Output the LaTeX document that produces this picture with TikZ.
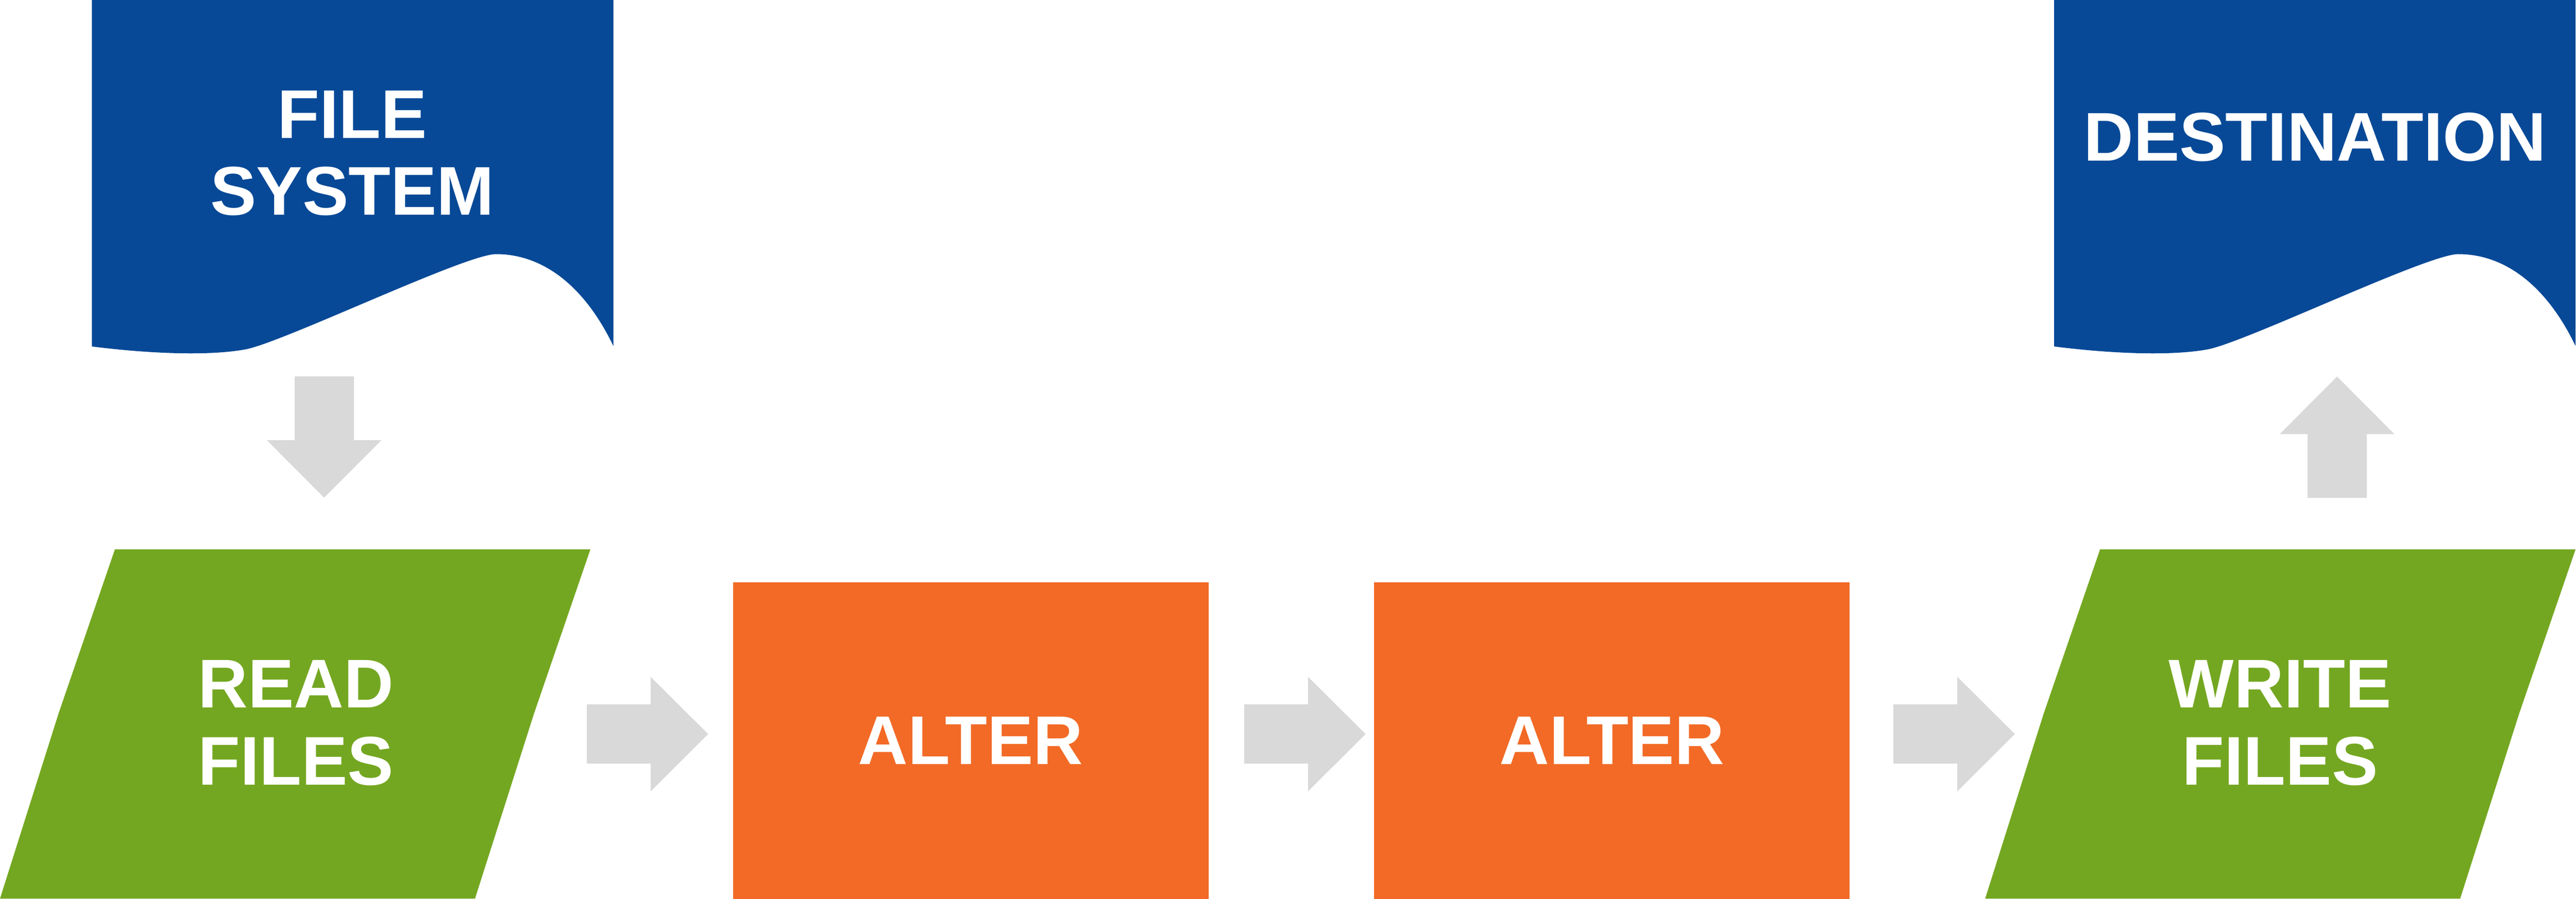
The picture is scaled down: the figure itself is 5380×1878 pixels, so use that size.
\documentclass[tikz,border=0pt]{standalone}
\usepackage{fontspec}
\setsansfont{Liberation Sans}
\usetikzlibrary{arrows.meta}

\definecolor{docblue}{HTML}{074997}
\definecolor{flowgreen}{HTML}{74A721}
\definecolor{alterorange}{HTML}{F26A26}
\definecolor{arrowgray}{HTML}{D9D9D9}

\begin{document}
\begin{tikzpicture}[x=0.01cm,y=-0.01cm,
  flowtext/.style={text=white,font=\sffamily\bfseries\fontsize{41}{45.8}\selectfont,align=center,inner sep=0},
  alterbox/.style={flowtext,fill=alterorange,minimum width=9.93cm,minimum height=6.61cm},
  blockarrow/.style={arrowgray,line width=1.24cm,-{Triangle[length=1.2cm,width=2.39cm,line width=0pt]}}]

\useasboundingbox (0,0) rectangle (5380,1878);

% source and destination
\fill [docblue] (192,0) -- (192,724) .. controls (302,738) and (432,745) .. (513,730)
  .. controls (592,715) and (972,531) .. (1036,531)
  .. controls (1136,531) and (1222,600) .. (1281,723) -- (1281,0) -- cycle;

\begin{scope}[shift={(4098,0)}]
\fill [docblue] (192,0) -- (192,724) .. controls (302,738) and (432,745) .. (513,730)
  .. controls (592,715) and (972,531) .. (1036,531)
  .. controls (1136,531) and (1222,600) .. (1281,723) -- (1281,0) -- cycle;
\end{scope}

% read and write
\fill [flowgreen] (240,1148) -- (1233,1148) -- (1115,1492) -- (992,1878) -- (0,1878) -- (122,1492) -- cycle;

\begin{scope}[shift={(4146,0)}]
\fill [flowgreen] (240,1148) -- (1233,1148) -- (1115,1492) -- (992,1878) -- (0,1878) -- (122,1492) -- cycle;
\end{scope}

\node [flowtext] (filesys) at (736,320) {FILE\\SYSTEM};
\node [flowtext] (dest) at (4835,287) {DESTINATION};
\node [flowtext] (read) at (618,1511) {READ\\FILES};
\node [alterbox] (alter1) at (2027.5,1547.5) {ALTER};
\node [alterbox] (alter2) at (3366.5,1547.5) {ALTER};
\node [flowtext] (write) at (4762,1511) {WRITE\\FILES};

% arrows
\coordinate (filesys out) at (677,787);
\coordinate (read in) at (677,1040);
\coordinate (read out) at (1226,1534);
\coordinate (alter1 in) at (1479,1534);
\coordinate (alter1 out) at (2598,1534);
\coordinate (alter2 in) at (2852,1534);
\coordinate (alter2 out) at (3954,1534);
\coordinate (write in) at (4208,1534);
\coordinate (write out) at (4881,1040);
\coordinate (dest in) at (4881,787);

\draw [blockarrow] (filesys out) -- (read in);
\draw [blockarrow] (read out) -- (alter1 in);
\draw [blockarrow] (alter1 out) -- (alter2 in);
\draw [blockarrow] (alter2 out) -- (write in);
\draw [blockarrow] (write out) -- (dest in);

\end{tikzpicture}
\end{document}
